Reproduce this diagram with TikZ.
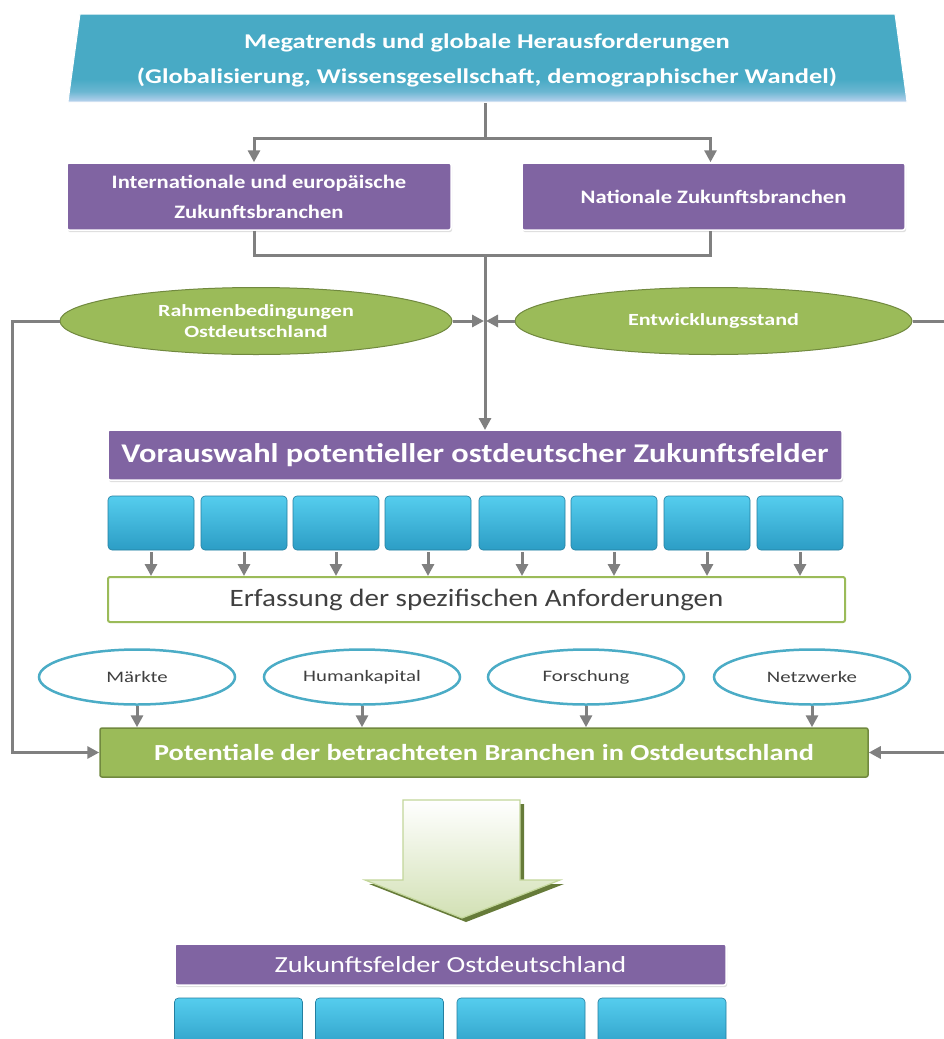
\documentclass[tikz,border=0pt]{standalone}
\usepackage{fontspec}
\setmainfont{Carlito}
\usetikzlibrary{arrows.meta,shapes.geometric,shadows}
\definecolor{teal1}{HTML}{48AAC5}
\definecolor{teal2}{HTML}{BCD3EF}
\definecolor{purp}{HTML}{8064A2}
\definecolor{grn}{HTML}{9BBB59}
\definecolor{grnd}{HTML}{71893F}
\definecolor{cyanT}{HTML}{55CDEE}
\definecolor{cyanB}{HTML}{2C9DC5}
\definecolor{cyanD}{HTML}{237FA0}
\definecolor{conn}{HTML}{808080}
\definecolor{txtg}{HTML}{404040}
\definecolor{eblue}{HTML}{4BACC6}
\pgfdeclareverticalshading{megashade}{100bp}{color(0bp)=(teal2); color(25bp)=(teal2); color(31bp)=(teal1!70!teal2); color(38bp)=(teal1); color(100bp)=(teal1)}
\newcommand\hs[2]{\scalebox{#1}[1]{#2}}
\tikzset{
  line/.style={draw=conn,line width=3pt},
  arr/.style={line,-{Triangle[width=12pt,length=12pt]}},
  purpbox/.style={rectangle,rounded corners=2pt,fill=purp,draw=white,line width=1.5pt,
    drop shadow={opacity=0.25,shadow xshift=1pt,shadow yshift=-2pt},text=white,align=center},
  grnell/.style={ellipse,fill=grn,draw=grnd,line width=1pt,text=white,align=center,
    font=\fontsize{17}{21}\selectfont\bfseries},
  cube/.style={rectangle,rounded corners=4pt,top color=cyanT,bottom color=cyanB,draw=cyanD,line width=0.6pt},
  wellip/.style={ellipse,fill=white,draw=eblue,line width=2.5pt,text=txtg,
    minimum width=196pt,minimum height=55pt,font=\fontsize{16}{18}\selectfont},
}
\begin{document}
\begin{tikzpicture}[x=1pt,y=-1pt]
\clip (0,0) rectangle (944,1039);
\fill[white] (0,0) rectangle (944,1039);
% top trapezoid
\shade[shading=megashade]
  (80,14)--(895,14)--(907,102)--(68,102)--cycle;
\draw[white,line width=1pt] (80,14)--(895,14)--(907,102)--(68,102)--cycle;
\node[text=white,font=\fontsize{21}{35}\selectfont\bfseries,align=center] (mega) at (487,60)
  {\hs{1.26}{Megatrends und globale Herausforderungen}\\\hs{1.26}{(Globalisierung, Wissensgesellschaft, demographischer Wandel)}};
\coordinate (megab) at (485,103);
\coordinate (j1) at (485,138);
\coordinate (j2) at (485,255);
% purple boxes
\node[purpbox,minimum width=384pt,minimum height=67pt,font=\fontsize{19}{30}\selectfont\bfseries] (intl) at (259,196.5)
  {\hs{1.19}{Internationale und europäische}\\\hs{1.19}{Zukunftsbranchen}};
\node[purpbox,minimum width=383pt,minimum height=67pt,font=\fontsize{19}{30}\selectfont\bfseries] (nat) at (713.5,196.5)
  {\hs{1.19}{Nationale Zukunftsbranchen}};
\draw[line] (megab) -- (j1);
\draw[arr] (j1) -| ([xshift=-5pt]intl.north);
\draw[arr] (j1) -| ([xshift=-3pt]nat.north);
\draw[line] ([xshift=-5pt]intl.south) |- (j2) -| ([xshift=-3pt]nat.south);
% ellipses
\node[grnell,minimum width=392pt,minimum height=67pt] (rahmen) at (256,321) {\hs{1.3}{Rahmenbedingungen}\\[0pt]\hs{1.3}{Ostdeutschland}};
\node[grnell,minimum width=397pt,minimum height=67pt] (entw) at (713.5,321) {\hs{1.3}{Entwicklungsstand}};
\coordinate (jm) at (485,321);
\coordinate (lc) at (12,321);
\coordinate (rc1) at (946,321);
\coordinate (rc2) at (946,757);
% Vorauswahl
\node[purpbox,minimum width=734pt,minimum height=50pt,font=\fontsize{27}{30}\selectfont\bfseries] (vor) at (475,455)
  {\hs{1.2}{Vorauswahl potentieller ostdeutscher Zukunftsfelder}};
\draw[arr] (j2) -- (485,430);
\draw[arr] (rahmen.east) -- ([xshift=-1pt]jm);
\draw[arr] (entw.west) -- ([xshift=1pt]jm);
% Erfassung
\node[rectangle,rounded corners=2pt,fill=white,draw=grn,line width=2pt,minimum width=737pt,minimum height=45pt,
  text=txtg,font=\fontsize{25}{26}\selectfont] (erf) at (476.5,599.5) {\hs{1.16}{Erfassung der spezifischen Anforderungen}};
% cubes
\foreach \i/\x in {1/151,2/244,3/336,4/428,5/522,6/614,7/707,8/800}{
  \node[cube,minimum width=86pt,minimum height=54pt] (b\i) at (\x,523) {};
  \draw[arr] (b\i.south) ++(0,2) -- (b\i.south |- erf.north);
}
% small ellipses
\node[wellip] (m1) at (137,677) {\hs{1.3}{Märkte}};
\node[wellip] (m2) at (362,677) {\hs{1.3}{Humankapital}};
\node[wellip] (m3) at (586,677) {\hs{1.3}{Forschung}};
\node[wellip] (m4) at (812,677) {\hs{1.3}{Netzwerke}};
% Potentiale
\node[rectangle,rounded corners=2pt,fill=grn,draw=grnd,line width=1.5pt,minimum width=768pt,minimum height=49pt,
  text=white,font=\fontsize{23}{26}\selectfont\bfseries] (pot) at (484,752.5)
  {\hs{1.23}{Potentiale der betrachteten Branchen in Ostdeutschland}};
\foreach \i in {1,...,4}{\draw[arr] (m\i.south) -- (m\i.south |- pot.north);}
\draw[arr] (rahmen.west) -- (lc) |- (pot.west);
\draw[line] (entw.east) -- (rc1);
\draw[arr] (pot.east -| rc2) -- (pot.east);
% big arrow
\fill[grnd!90!black] (407,804)--(524,804)--(524,884)--(564,884)--(466,922)--(369,884)--(407,884)--cycle;
\shade[top color=white,bottom color=grn!45] (403,800)--(520,800)--(520,880)--(560,880)--(462,918)--(365,880)--(403,880)--cycle;
\draw[grn!60,line width=1.2pt] (403,800)--(520,800)--(520,880)--(560,880)--(462,918)--(365,880)--(403,880)--cycle;
% Zukunftsfelder
\node[purpbox,minimum width=551pt,minimum height=41pt,font=\fontsize{23}{26}\selectfont] (zuk) at (450.5,964.5)
  {\hs{1.23}{Zukunftsfelder Ostdeutschland}};
\foreach \i/\x in {1/238.5,2/379.5,3/521,4/662}{
  \node[cube,minimum width=128pt,minimum height=54pt] (z\i) at (\x,1025) {};
}
\end{tikzpicture}
\end{document}
